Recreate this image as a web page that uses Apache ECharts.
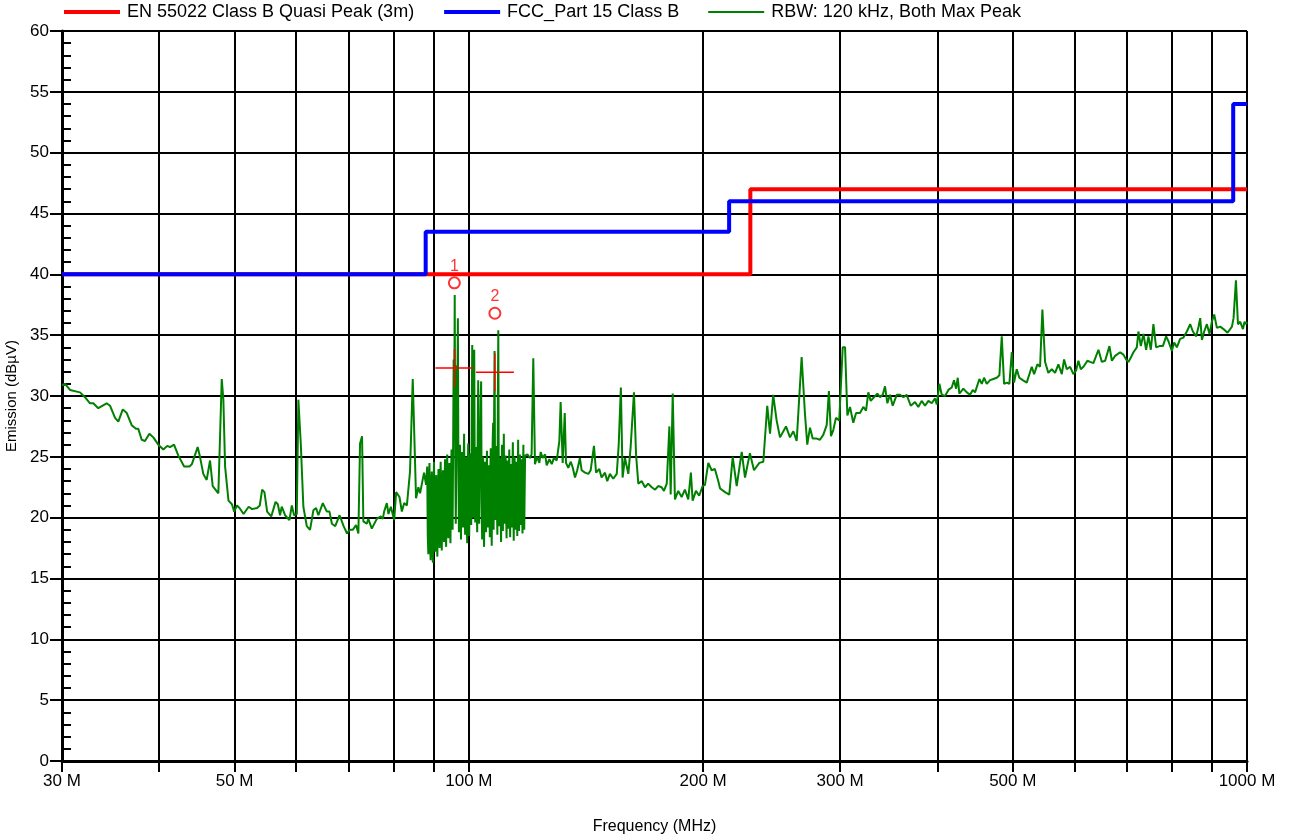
<!DOCTYPE html>
<html>
<head>
<meta charset="utf-8">
<title>Radiated emission scan</title>
<script src="https://cdn.jsdelivr.net/npm/echarts@6/dist/echarts.min.js"></script>
<style>
  html, body { margin: 0; padding: 0; background: #fff; }
  #chart { width: 1290px; height: 836px; }
</style>
</head>
<body>
<div id="chart"></div>
<script>
// Limit lines: [frequency MHz, level dBµV]
const en55022Limit = [[30, 40], [230, 40], [230, 47], [1000, 47]];
const fccLimit = [[30, 40], [88, 40], [88, 43.5], [216, 43.5], [216, 46], [960, 46], [960, 54], [1000, 54]];

// Measured max-peak trace, split by band: [frequency MHz, level dBµV]
const traceLow = [
  [30.0,30.9],[30.27,31.0],[30.72,30.5],[31.64,30.3],[32.11,29.9],[32.59,29.4],[32.91,29.4],[33.40,29.0],
  [34.24,29.4],[34.58,29.2],[35.10,28.2],[35.44,27.9],[35.91,28.9],[36.34,28.6],[36.87,27.6],[37.34,27.3],
  [37.60,27.3],[37.98,26.4],[38.35,26.3],[38.85,26.9],[39.31,26.6],[39.89,26.0],[40.49,25.6],[40.97,25.9],
  [41.30,25.8],[41.79,26.0],[42.33,25.1],[43.06,24.2],[43.75,24.2],[44.06,24.4],[44.82,25.8],[45.13,25.0],
  [45.57,23.6],[46.03,23.1],[46.49,24.7],[46.86,22.6],[47.65,22.0],[48.13,31.4],[48.36,29.7],[48.61,24.2],
  [49.10,21.4],[49.60,21.1],[49.94,20.5],[50.34,21.0],[50.73,20.8],[51.34,20.3],[52.12,20.9],[52.65,20.7],
  [53.44,20.8],[53.86,21.0],[54.24,22.3],[54.61,22.1],[55.05,20.5],[55.72,20.1],[56.44,21.3],[56.82,21.1],
  [57.19,20.2],[57.48,20.9],[58.05,20.2],[58.80,19.8],[59.22,21.0],[59.62,20.2],[60.10,20.3],[60.38,29.7],
  [60.81,26.1],[61.28,20.9],[61.90,19.3],[62.50,19.0],[63.12,20.6],[63.63,20.8],[64.06,20.2],[64.91,21.2],
  [65.69,20.5],[66.20,20.5],[66.68,19.5],[67.34,19.3],[68.21,20.2],[69.03,19.3],[69.73,18.7],[70.35,19.0],
  [70.92,19.0],[71.62,19.4],[72.11,18.7],[72.47,26.1],[72.90,26.7],[73.18,19.7],[73.92,19.5],[74.27,19.9],
  [75.03,19.1],[76.15,19.9],[77.06,20.1],[77.52,19.9],[77.82,20.5],[78.45,21.2],[78.82,20.3],[79.38,20.9],
  [80.17,19.8],[80.64,22.1],[81.44,21.7],[82.01,20.5],[82.58,21.2],[83.24,21.0],[84.02,23.8],[84.70,31.4],
  [85.53,21.6],[86.12,22.5],[86.55,22.0],[87.58,23.7],[88.10,22.7]
];

// FM broadcast band: dense carriers
const traceFm = [
  [88.40,24.2],[88.55,18.5],[88.70,17.0],[88.85,23.0],[89.00,24.5],[89.15,18.0],[89.30,16.5],[89.45,22.4],
  [89.60,23.8],[89.75,17.4],[89.90,16.3],[90.05,21.8],[90.20,24.6],[90.35,19.0],[90.50,17.2],[90.65,22.6],
  [90.80,23.5],[90.95,18.3],[91.10,16.8],[91.25,21.5],[91.40,24.0],[91.55,19.4],[91.70,17.5],[91.85,22.9],
  [92.00,24.6],[92.15,18.7],[92.30,17.3],[92.45,22.0],[92.60,23.9],[92.75,19.6],[92.90,18.0],[93.05,22.8],
  [93.20,24.8],[93.35,19.1],[93.50,17.6],[93.65,23.4],[93.80,25.2],[93.95,20.2],[94.10,18.3],[94.25,22.1],
  [94.40,24.5],[94.55,19.3],[94.70,17.9],[94.85,23.0],[95.00,25.6],[95.15,20.4],[95.30,19.0],[95.45,26.0],
  [95.60,33.0],[95.75,27.5],[95.90,38.3],[96.05,25.0],[96.20,19.5],[96.35,24.0],[96.50,32.5],[96.65,29.8],
  [96.80,36.4],[96.95,24.5],[97.10,18.8],[97.25,22.7],[97.40,26.0],[97.55,20.6],[97.70,18.2],[97.85,23.3],
  [98.00,25.4],[98.15,20.0],[98.30,19.2],[98.45,23.9],[98.60,26.9],[98.75,21.2],[98.90,18.6],[99.05,22.5],
  [99.20,25.0],[99.35,20.3],[99.50,17.9],[99.65,23.1],[99.80,26.1],[99.95,21.0],[100.10,18.5],[100.25,22.7],
  [100.40,25.3],[100.55,21.5],[100.70,19.4],[100.85,28.5],[101.00,34.2],[101.15,24.0],[101.30,20.0],[101.45,29.0],
  [101.60,33.8],[101.75,23.6],[101.90,19.6],[102.05,22.8],[102.20,25.8],[102.35,20.9],[102.50,18.8],[102.65,27.0],
  [102.80,31.3],[102.95,22.6],[103.10,19.5],[103.25,23.4],[103.40,26.3],[103.55,29.6],[103.70,31.2],[103.85,21.4],
  [104.00,18.2],[104.15,22.0],[104.30,25.0],[104.45,20.1],[104.60,17.6],[104.75,22.4],[104.90,24.6],[105.05,20.8],
  [105.20,18.8],[105.35,23.6],[105.50,25.5],[105.65,20.5],[105.80,19.2],[105.95,22.2],[106.10,24.3],[106.25,20.7],
  [106.40,18.4],[106.55,23.9],[106.70,25.7],[106.85,20.2],[107.00,17.7],[107.15,23.2],[107.30,26.2],[107.45,27.8],
  [107.60,19.0],[107.75,28.0],[107.90,33.7],[108.05,24.1],[108.20,19.8],[108.35,23.3],[108.50,25.9],[108.65,21.0],
  [108.80,18.6],[108.95,29.5],[109.10,35.4],[109.25,23.7],[109.40,19.3],[109.55,22.5],[109.70,24.9],[109.85,20.4],
  [110.00,18.0],[110.15,22.6],[110.30,26.0],[110.45,21.3],[110.60,18.9],[110.75,23.8],[110.90,26.9],[111.05,20.9],
  [111.20,19.5],[111.35,22.7],[111.50,25.1],[111.65,20.6],[111.80,18.3],[111.95,22.3],[112.10,24.7],[112.25,21.0],
  [112.40,19.1],[112.55,23.1],[112.70,25.6],[112.85,20.5],[113.00,18.4],[113.15,22.0],[113.30,24.4],[113.45,20.9],
  [113.60,19.2],[113.75,23.5],[113.90,26.2],[114.05,21.2],[114.20,18.1],[114.35,22.8],[114.50,25.0],[114.65,20.3],
  [114.80,19.0],[114.95,22.4],[115.10,24.6],[115.25,21.1],[115.40,18.5],[115.55,23.0],[115.70,26.4],[115.85,20.8],
  [116.00,18.9],[116.15,22.9],[116.30,25.2],[116.45,21.4],[116.60,19.4],[116.75,22.6],[116.90,24.8],[117.05,20.6],
  [117.20,18.7],[117.35,23.4],[117.50,26.0],[117.65,21.0],[117.80,19.0]
];

const traceMid = [
  [118.1,25.1],[118.9,25.2],[119.8,24.9],[120.4,25.2],[121.0,33.1],[121.6,24.4],[122.4,25.0],[123.2,24.5],
  [123.7,25.4],[124.4,24.9],[125.3,25.2],[125.9,24.3],[126.9,24.8],[127.8,24.4],[128.6,24.9],[129.7,24.7],
  [130.7,26.3],[131.2,29.5],[132.0,24.5],[132.8,28.6],[133.3,24.5],[134.2,24.1],[135.2,24.6],[136.0,24.1],
  [136.9,23.3],[137.8,23.9],[138.9,24.9],[139.6,23.9],[141.0,23.7],[142.4,23.6],[143.4,23.9],[144.8,25.9],
  [145.7,23.7],[147.1,24.0],[148.1,23.3],[149.6,23.7],[150.6,23.0],[151.8,23.6],[153.3,23.2],[154.9,23.6],
  [155.8,26.0],[156.8,30.7],[157.6,23.3],[158.7,24.9],[160.3,23.6],[161.4,25.8],[163.0,30.3],[164.0,25.2],
  [165.1,22.8],[166.8,23.0],[168.4,22.5],[170.0,22.8],[171.8,22.5],[173.5,22.3],[175.1,22.6],[176.9,22.5],
  [178.1,22.2],[179.6,22.8],[181.0,27.5],[181.7,21.9],[182.8,30.2],[184.0,21.5],[185.8,22.2],[187.7,21.7],
  [189.5,22.3],[191.4,21.5],[192.9,23.7],[193.9,21.4],[195.8,22.2],[197.7,21.8],[199.7,22.6],[201.1,22.7],
  [203.1,24.5],[205.1,23.9],[207.1,24.0],[209.2,23.0],[210.3,22.4],[213.4,22.1],[216.1,21.9],[218.3,25.0],
  [220.9,22.6],[224.2,25.4],[226.4,23.3],[229.7,25.3],[232.5,23.9],[236.2,24.5],[239.0,24.6],[240.2,24.7],
  [241.8,29.2],[243.8,26.9],[246.1,30.1],[248.6,28.0],[251.1,26.6],[255.6,27.5],[258.6,26.6],[261.2,27.1],
  [263.8,26.3],[267.7,33.2],[270.3,28.6],[272.2,26.0],[274.4,27.4],[276.6,26.5],[279.9,26.5],[282.6,26.4],
  [285.4,26.8],[288.3,27.6],[290.2,30.4],[292.0,26.7],[294.0,27.2],[296.3,28.2],[299.2,28.0]
];

const traceHigh = [
  [302.3,34.0],[304.4,34.0],[306.5,28.4],[308.9,29.1],[311.9,27.8],[314.5,28.6],[318.2,28.6],[321.3,29.1],
  [323.9,28.8],[326.1,30.3],[328.4,29.6],[331.6,29.9],[334.9,30.2],[337.6,29.9],[340.3,30.1],[342.6,30.8],
  [345.0,29.4],[347.7,30.1],[350.5,29.2],[354.7,30.1],[358.2,30.1],[361.7,29.9],[365.3,30.1],[369.7,29.2],
  [374.4,29.5],[378.1,29.1],[381.9,29.6],[385.7,29.2],[389.5,29.6],[393.4,29.4],[397.3,29.8],[399.3,29.3],
  [402.4,31.0],[405.2,30.1],[409.2,30.0],[413.3,30.5],[417.4,30.7],[420.2,31.3],[422.8,30.6],[424.9,31.5],
  [426.9,30.2],[432.0,30.6],[436.4,30.3],[440.6,30.1],[444.2,30.5],[447.2,30.3],[453.0,31.4],[456.2,31.0],
  [459.3,31.5],[463.0,31.0],[467.5,31.3],[472.1,31.4],[476.9,31.5],[480.6,31.7],[484.0,34.9],[487.3,31.0],
  [491.2,31.1],[495.0,31.0],[498.6,33.6],[501.9,31.1],[505.9,32.2],[509.8,31.5],[515.0,31.3],[521.1,31.1],
  [528.9,32.4],[532.6,31.8],[537.8,32.6],[542.1,32.4],[545.8,37.1],[550.2,32.8],[555.5,31.9],[561.2,32.2],
  [566.7,31.9],[572.3,32.6],[578.1,31.8],[582.0,33.0],[586.7,32.2],[592.5,32.4],[598.3,31.8],[603.1,32.1],
  [607.2,32.9],[611.5,32.2],[616.3,32.4],[623.6,32.9],[628.6,32.8],[634.8,32.7],[644.3,33.8],[650.8,32.8],
  [657.2,32.9],[665.6,34.1],[670.4,32.9],[676.9,33.3],[687.0,33.6],[693.7,33.4],[699.3,33.0],[704.1,32.8],
  [709.7,33.2],[714.6,33.6],[721.8,34.0],[725.2,35.3],[730.4,34.1],[736.0,35.1],[741.9,33.8],[747.0,34.9],
  [752.3,33.8],[758.1,35.9],[764.2,34.0],[771.7,34.1],[779.6,34.1],[787.2,34.9],[792.6,34.5],[800.6,33.7],
  [806.1,34.4],[812.6,34.0],[820.5,34.7],[828.6,34.8],[837.0,35.3],[845.2,35.9],[852.0,35.3],[860.4,34.9],
  [866.3,35.7],[870.7,36.4],[875.1,34.6],[881.0,35.3],[888.1,35.9],[895.0,35.1],[901.3,36.1],[907.5,36.7],
  [914.8,35.6],[923.8,35.7],[932.9,35.5],[944.0,35.2],[956.4,35.7],[961.0,36.4],[967.8,39.5],[973.6,35.9],
  [980.2,36.1],[988.1,35.5],[992.8,36.1],[997.8,35.9],[1000,36.1]
];

// Marker readings: [frequency MHz, level dBµV, marker number]
const peakMarkers = [[95.8, 39.3, '1'], [108.0, 36.8, '2']];
// Quasi-peak re-measurements at the marked frequencies
const qpReadings = [[95.8, 32.3], [108.0, 31.95]];

// Axis ticks
const xGridValues = [30, 40, 50, 60, 70, 80, 90, 100, 200, 300, 400, 500, 600, 700, 800, 900, 1000];
const xLabelValues = [30, 50, 100, 200, 300, 500, 1000];

const seriesNames = {
  en: 'EN 55022 Class B Quasi Peak (3m)',
  fcc: 'FCC_Part 15 Class B',
  trace: 'RBW: 120 kHz, Both Max Peak'
};

const trace = traceLow.concat(traceFm, traceMid, traceHigh);
const FONT = 'Liberation Sans, Arial, sans-serif';

const chart = echarts.init(document.getElementById('chart'), null, { renderer: 'canvas' });

chart.setOption({
  animation: false,
  backgroundColor: '#ffffff',
  textStyle: { fontFamily: FONT },
  grid: { left: 62, right: 43, top: 31, bottom: 75, containLabel: false, outerBoundsMode: 'none' },
  legend: {
    data: [
      { name: seriesNames.en, lineStyle: { width: 4, color: '#ff0000' } },
      { name: seriesNames.fcc, lineStyle: { width: 4, color: '#0000ff' } },
      { name: seriesNames.trace, lineStyle: { width: 2, color: '#008000' } }
    ],
    left: 62,
    top: 3,
    padding: 0,
    itemWidth: 56,
    itemHeight: 14,
    itemGap: 28,
    selectedMode: false,
    itemStyle: { opacity: 0 },
    textStyle: { fontSize: 18, color: '#000', fontFamily: FONT, padding: [0, 0, 0, 2] }
  },
  xAxis: {
    type: 'log',
    logBase: 10,
    min: 30,
    max: 1000,
    name: 'Frequency (MHz)',
    nameLocation: 'middle',
    nameGap: 58,
    nameTextStyle: { fontSize: 16, color: '#000', fontFamily: FONT },
    axisLine: { show: true, onZero: false, lineStyle: { color: '#000', width: 3 } },
    axisTick: { show: true, length: 11, customValues: xGridValues, lineStyle: { color: '#000', width: 2 } },
    axisLabel: {
      customValues: xLabelValues,
      margin: 12,
      fontSize: 17,
      color: '#000',
      fontFamily: FONT,
      formatter: v => Math.round(v) + ' M'
    },
    splitLine: { show: true, lineStyle: { color: '#000', width: 2 } },
    minorSplitLine: { show: false }
  },
  yAxis: [
    {
      type: 'value',
      min: 0,
      max: 60,
      interval: 5,
      name: 'Emission (dBµV)',
      nameLocation: 'middle',
      nameGap: 40,
      nameTextStyle: { fontSize: 15, color: '#000', fontFamily: FONT },
      axisLine: { show: true, lineStyle: { color: '#000', width: 3 } },
      axisTick: { show: true, length: 12, lineStyle: { color: '#000', width: 2 } },
      axisLabel: { margin: 13, fontSize: 17, color: '#000', fontFamily: FONT },
      splitLine: { show: true, lineStyle: { color: '#000', width: 2 } }
    },
    {
      // unit ticks drawn inside the plot along the left axis
      type: 'value',
      min: 0,
      max: 60,
      interval: 1,
      position: 'left',
      offset: 0,
      axisLine: { show: false },
      axisTick: { show: true, inside: true, length: 9, lineStyle: { color: '#000', width: 2 } },
      axisLabel: { show: false },
      splitLine: { show: false }
    }
  ],
  series: [
    {
      name: seriesNames.trace,
      type: 'line',
      data: trace,
      symbol: 'none',
      lineStyle: { color: '#008000', width: 2 },
      itemStyle: { color: '#008000' },
      z: 2
    },
    {
      name: seriesNames.en,
      type: 'line',
      data: en55022Limit,
      symbol: 'none',
      lineStyle: { color: '#ff0000', width: 4 },
      itemStyle: { color: '#ff0000' },
      z: 3
    },
    {
      name: seriesNames.fcc,
      type: 'line',
      data: fccLimit,
      symbol: 'none',
      lineStyle: { color: '#0000ff', width: 4 },
      itemStyle: { color: '#0000ff' },
      z: 4
    },
    {
      name: 'markers',
      type: 'scatter',
      data: peakMarkers,
      symbol: 'emptyCircle',
      symbolSize: 11,
      itemStyle: { color: '#ff0000', borderColor: '#ff0000', borderWidth: 1 },
      label: {
        show: true,
        position: 'top',
        distance: 2,
        color: '#ff0000',
        fontSize: 16,
        fontFamily: FONT,
        formatter: p => p.value[2]
      },
      z: 6
    },
    {
      name: 'qp',
      type: 'scatter',
      data: qpReadings,
      symbol: 'path://M0,18.3h38v1.4h-38z M18.3,0h1.4v38h-1.4z',
      symbolSize: [38, 38],
      itemStyle: { color: '#ff0000', opacity: 1 },
      z: 10,
      zlevel: 1
    }
  ]
});
</script>
</body>
</html>
